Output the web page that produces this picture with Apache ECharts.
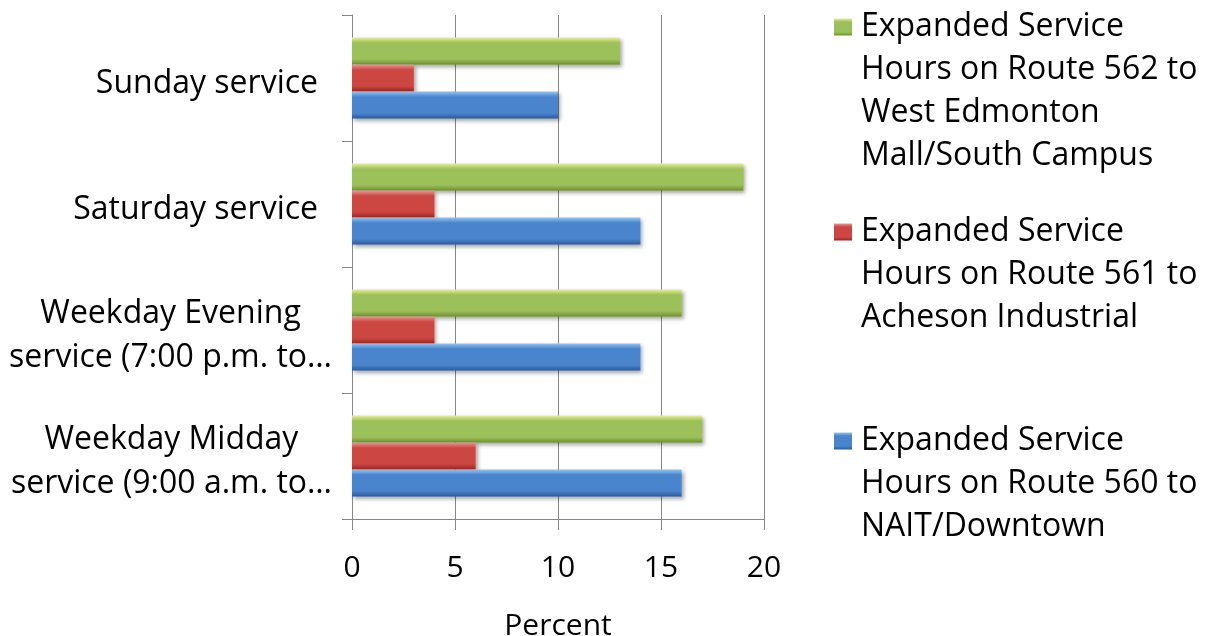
<!DOCTYPE html>
<html>
<head>
<meta charset="utf-8">
<script src="https://cdn.jsdelivr.net/npm/echarts@6/dist/echarts.min.js"></script>
<style>
  html, body { margin: 0; padding: 0; background: #fff; }
  #main { width: 1214px; height: 636px; }
</style>
</head>
<body>
<div id="main"></div>
<script>
// categories, bottom to top (as the value axis draws them)
var categories = ['Weekday Midday service (9:00 a.m. to…', 'Weekday Evening service (7:00 p.m. to…', 'Saturday service', 'Sunday service'];
var route560 = [16, 14, 14, 10];
var route561 = [6, 4, 4, 3];
var route562 = [17, 16, 19, 13];
var xTicks = [0, 5, 10, 15, 20];

var FONT = '"Open Sans", Lato, sans-serif';

function bevel(light, main, dark) {
    return new echarts.graphic.LinearGradient(0, 0, 0, 1, [
        { offset: 0, color: light },
        { offset: 0.2, color: main },
        { offset: 0.8, color: main },
        { offset: 1, color: dark }
    ]);
}
var blue = bevel('#8ec6f7', '#4a84cc', '#2c5a98');
var red = bevel('#f39490', '#cc4642', '#8e2a27');
var green = bevel('#e4f290', '#9cc05a', '#6f8f32');

var names = [
    'Expanded Service Hours on Route 560 to NAIT/Downtown',
    'Expanded Service Hours on Route 561 to Acheson Industrial',
    'Expanded Service Hours on Route 562 to West Edmonton Mall/South Campus'
];
var wrapped = {};
wrapped[names[0]] = ['Expanded Service', 'Hours on Route 560 to', 'NAIT/Downtown'];
wrapped[names[1]] = ['Expanded Service', 'Hours on Route 561 to', 'Acheson Industrial'];
wrapped[names[2]] = ['Expanded Service', 'Hours on Route 562 to', 'West Edmonton', 'Mall/South Campus'];

var LH = 43;
var LFS = 32;
function legendFor(name, iconY) {
    var n = wrapped[name].length;
    return {
        data: [name],
        left: 834,
        // blank lines above the text keep the icon on the first line
        top: iconY - (2 * n - 1) * LH / 2,
        orient: 'vertical',
        padding: 0,
        itemWidth: 18,
        itemHeight: 17,
        icon: 'rect',
        selectedMode: false,
        formatter: function (nm) {
            var lines = wrapped[nm];
            var out = [];
            for (var i = 1; i < lines.length; i++) out.push('{t| }');
            for (var j = 0; j < lines.length; j++) out.push('{t|' + lines[j] + '}');
            return out.join('\n');
        },
        textStyle: {
            fontFamily: FONT, fontSize: LFS, color: '#000', lineHeight: LH,
            rich: { t: { fontFamily: FONT, fontSize: LFS, color: '#000', lineHeight: LH, padding: [0, 0, 0, 4] } }
        }
    };
}

var dom = document.getElementById('main');
var myChart = echarts.init(dom, null, { renderer: 'canvas' });

var barShadow = { shadowBlur: 4, shadowOffsetX: 2, shadowOffsetY: 2, shadowColor: 'rgba(0,0,0,0.35)' };

var option = {
    backgroundColor: '#fff',
    animation: false,
    grid: { left: 352, right: 450, top: 15, bottom: 117, outerBoundsMode: 'none', containLabel: false },
    legend: [
        legendFor(names[2], 27),
        legendFor(names[1], 232),
        legendFor(names[0], 441)
    ],
    xAxis: {
        type: 'value',
        min: xTicks[0],
        max: xTicks[xTicks.length - 1],
        interval: 5,
        name: 'Percent',
        nameLocation: 'middle',
        nameGap: 92,
        nameTextStyle: { fontFamily: FONT, fontSize: 30, color: '#000' },
        axisLine: { show: true, lineStyle: { color: '#868686', width: 1 } },
        axisTick: { show: true, length: 11, lineStyle: { color: '#868686' } },
        axisLabel: { fontFamily: FONT, fontSize: 30, color: '#000', margin: 34 },
        splitLine: { show: true, lineStyle: { color: '#868686', width: 1 } }
    },
    yAxis: {
        type: 'category',
        data: categories,
        axisLine: { show: true, lineStyle: { color: '#868686', width: 1 } },
        axisTick: { show: true, length: 10, lineStyle: { color: '#868686' } },
        axisLabel: {
            margin: 20,
            padding: [12, 0, 0, 0],
            fontFamily: FONT,
            fontSize: 32,
            color: '#000',
            lineHeight: 44,
            formatter: function (v) {
                if (v.indexOf('Weekday') === 0) {
                    var i = v.indexOf(' service');
                    return '{c|' + v.slice(0, i) + '}\n{c|' + v.slice(i + 1) + '}';
                }
                return '{s|' + v + '}';
            },
            rich: {
                c: { align: 'center', fontFamily: FONT, fontSize: 32, color: '#000', lineHeight: 44 },
                s: { fontFamily: FONT, fontSize: 32, color: '#000', padding: [0, 14, 0, 0] }
            }
        },
        splitLine: { show: false }
    },
    // first series sits at the top of each group
    series: [
        { name: names[2], type: 'bar', data: route562, barWidth: 27, barGap: '0%', itemStyle: Object.assign({ color: green }, barShadow) },
        { name: names[1], type: 'bar', data: route561, barWidth: 27, barGap: '0%', itemStyle: Object.assign({ color: red }, barShadow) },
        { name: names[0], type: 'bar', data: route560, barWidth: 27, barGap: '0%', itemStyle: Object.assign({ color: blue }, barShadow) }
    ]
};

myChart.setOption(option);
</script>
</body>
</html>
